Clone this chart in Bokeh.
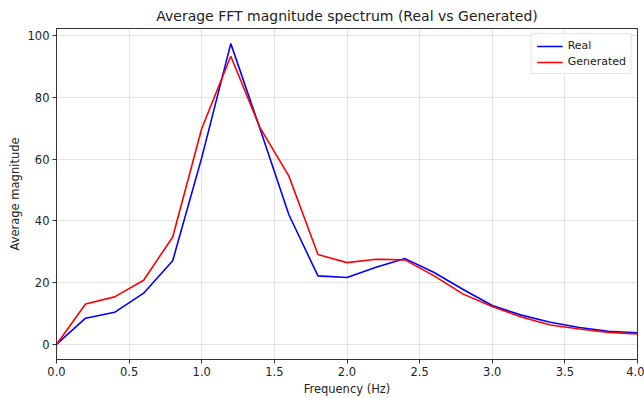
from bokeh.plotting import figure
from bokeh.models import Range1d, FixedTicker, NumeralTickFormatter, Legend, LegendItem
from bokeh.embed import file_html
from bokeh.resources import INLINE

freq = [0.0, 0.2, 0.4, 0.6, 0.8, 1.0, 1.2, 1.4, 1.6, 1.8, 2.0,
        2.2, 2.4, 2.6, 2.8, 3.0, 3.2, 3.4, 3.6, 3.8, 4.0]
real = [0.0, 8.5, 10.4, 16.6, 27.1, 60.5, 97.4, 70.0, 42.0, 22.2, 21.7,
        25.0, 27.8, 23.3, 17.8, 12.6, 9.5, 7.2, 5.5, 4.3, 3.8]
generated = [0.0, 13.1, 15.4, 20.8, 34.8, 69.9, 93.3, 70.3, 54.5, 29.1, 26.5,
             27.6, 27.4, 22.2, 16.3, 12.3, 8.9, 6.3, 5.0, 3.9, 3.4]
x_ticks = [0.0, 0.5, 1.0, 1.5, 2.0, 2.5, 3.0, 3.5, 4.0]
y_ticks = [0, 20, 40, 60, 80, 100]

FONT = "DejaVu Sans"

p = figure(width=644, height=398, output_backend="svg", toolbar_location=None,
           x_range=Range1d(0, 4), y_range=Range1d(-4.87, 102.3),
           title="Average FFT magnitude spectrum (Real vs Generated)",
           min_border_left=56, min_border_right=7, min_border_top=27, min_border_bottom=37)

p.title.align = "center"
p.title.text_font = FONT
p.title.text_font_size = "14px"
p.title.text_font_style = "normal"
p.title.text_color = "#222222"

r1 = p.line(freq, real, line_color="#0000ff", line_width=1.6)
r2 = p.line(freq, generated, line_color="#ff0000", line_width=1.6)

legend = Legend(items=[LegendItem(label="Real", renderers=[r1]),
                       LegendItem(label="Generated", renderers=[r2])],
                location="top_right")
legend.label_text_font = FONT
legend.label_text_font_size = "11px"
legend.label_text_color = "#222222"
legend.border_line_color = "#cccccc"
legend.border_line_width = 1
legend.background_fill_alpha = 0.8
legend.glyph_width = 26
legend.glyph_height = 12
legend.label_height = 12
legend.spacing = 3
legend.padding = 5
legend.margin = 5
p.add_layout(legend)

p.xaxis.ticker = FixedTicker(ticks=x_ticks)
p.xaxis.formatter = NumeralTickFormatter(format="0.0")
p.yaxis.ticker = FixedTicker(ticks=y_ticks)
p.xaxis.axis_label = "Frequency (Hz)"
p.yaxis.axis_label = "Average magnitude"

for ax in (p.xaxis[0], p.yaxis[0]):
    ax.axis_label_text_font = FONT
    ax.axis_label_text_font_size = "11.5px"
    ax.axis_label_text_font_style = "normal"
    ax.axis_label_text_color = "#222222"
    ax.major_label_text_font = FONT
    ax.major_label_text_font_size = "11.5px"
    ax.major_label_text_color = "#222222"
    ax.axis_line_color = "#333333"
    ax.major_tick_line_color = "#333333"
    ax.major_tick_in = 0
    ax.major_tick_out = 4
    ax.minor_tick_line_color = None
    ax.major_label_standoff = 3
    ax.axis_label_standoff = 3

p.outline_line_color = "#333333"
p.outline_line_alpha = 1
p.xgrid.grid_line_color = "#b0b0b0"
p.xgrid.grid_line_alpha = 0.35
p.ygrid.grid_line_color = "#b0b0b0"
p.ygrid.grid_line_alpha = 0.35

open("out.html", "w").write(file_html(p, INLINE))
